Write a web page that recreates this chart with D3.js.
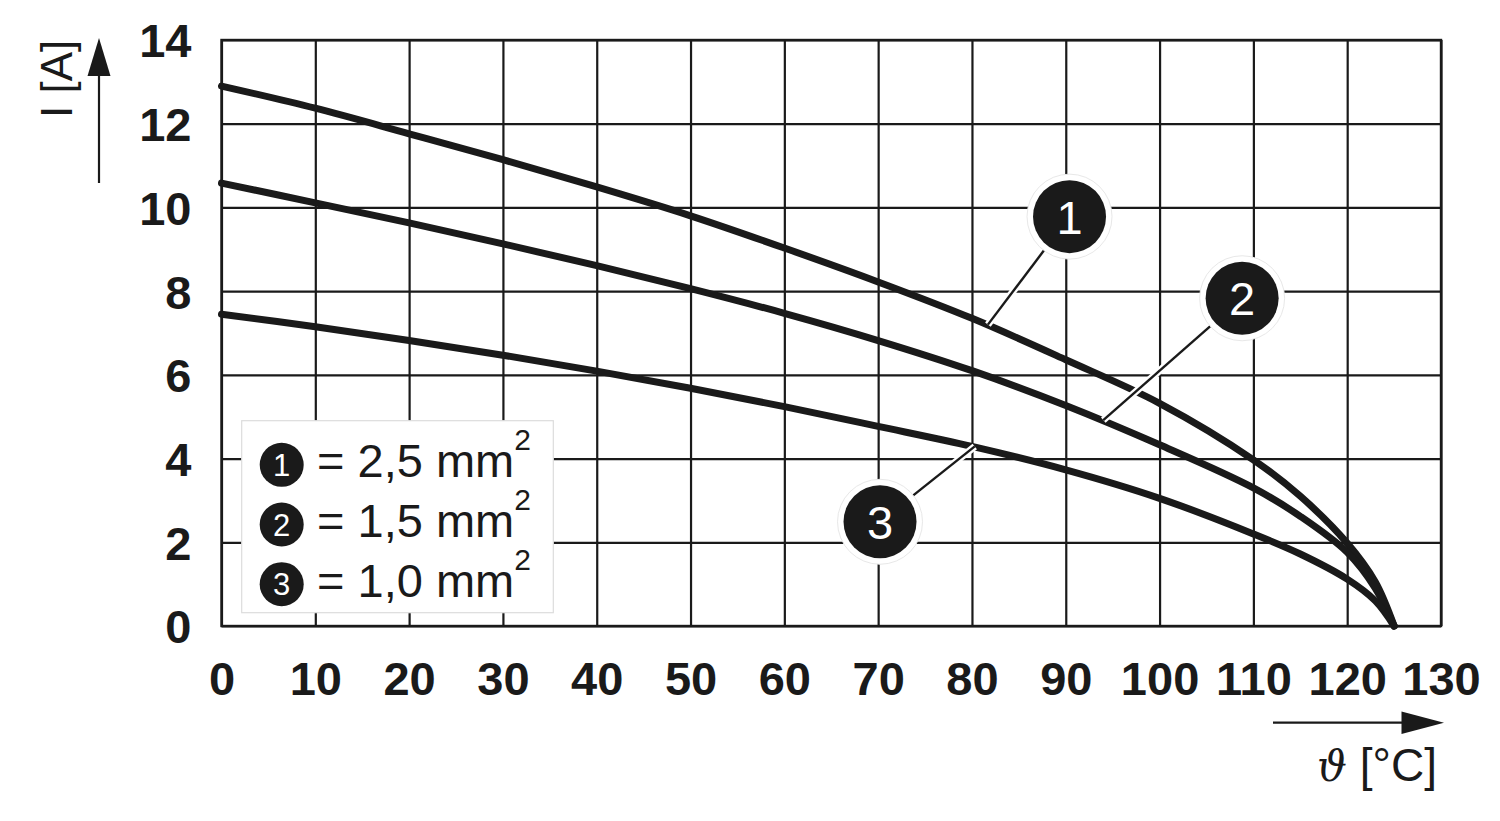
<!DOCTYPE html>
<html>
<head>
<meta charset="utf-8">
<script src="https://cdn.jsdelivr.net/npm/d3@7"></script>
<style>
  html, body { margin: 0; padding: 0; background: #fff; }
  svg { display: block; }
</style>
</head>
<body>
<svg id="chart" width="1500" height="821"></svg>
<script>
// ---- data ----
const temps = [0, 10, 20, 30, 40, 50, 60, 70, 80, 90, 100, 110, 115, 120, 123, 125];
const current25 = [12.9, 12.37, 11.76, 11.14, 10.49, 9.8, 9.03, 8.22, 7.35, 6.36, 5.32, 3.97, 3.1, 1.98, 1.05, 0];
const current15 = [10.58, 10.11, 9.63, 9.13, 8.61, 8.06, 7.47, 6.82, 6.1, 5.27, 4.33, 3.3, 2.62, 1.76, 0.9, 0];
const current10 = [7.45, 7.15, 6.82, 6.47, 6.09, 5.68, 5.24, 4.77, 4.29, 3.73, 3.05, 2.2, 1.72, 1.12, 0.6, 0];
const seriesNames = ["1", "2", "3"];
const legendTexts = ["= 2,5 mm", "= 1,5 mm", "= 1,0 mm"];
const xTicks = [0, 10, 20, 30, 40, 50, 60, 70, 80, 90, 100, 110, 120, 130];
const yTicks = [0, 2, 4, 6, 8, 10, 12, 14];
const calloutPos = [[90.4, 9.78], [108.8, 7.83], [70.2, 2.49]];
const calloutAnchor = [[81.7, 7.2], [94, 4.92], [80.3, 4.29]];
const xTitle = "[°C]";
const yTitle = "I [A]";

const series = [current25, current15, current10];
const ink = "#1a1a1a";
const font = "'Liberation Sans', Arial, Helvetica, sans-serif";

const svg = d3.select("#chart");
svg.append("rect").attr("width", 1500).attr("height", 821).attr("fill", "#fff");

const x = d3.scaleLinear().domain([0, 130]).range([221.5, 1441]);
const y = d3.scaleLinear().domain([0, 14]).range([626, 40]);
const plotW = x(130) - x(0), plotH = y(0) - y(14);

// grid + ticks via axes
const gx = svg.append("g").attr("transform", `translate(0,${y(0)})`)
  .call(d3.axisBottom(x).tickValues(xTicks).tickSize(-plotH).tickPadding(35).tickFormat(d3.format("d")));
const gy = svg.append("g").attr("transform", `translate(${x(0)},0)`)
  .call(d3.axisLeft(y).tickValues(yTicks).tickSize(-plotW).tickPadding(30).tickFormat(d3.format("d")));
[gx, gy].forEach(g => {
  g.select(".domain").remove();
  g.selectAll(".tick line").attr("stroke", ink).attr("stroke-width", 2.2);
  g.selectAll(".tick text").attr("fill", ink).attr("font-family", font)
    .attr("font-weight", "bold").attr("font-size", 47);
});
gy.selectAll(".tick text").attr("dy", "0.36em");
gx.selectAll(".tick text").attr("dy", 0).attr("y", 69);

// border
svg.append("rect").attr("x", x(0)).attr("y", y(14)).attr("width", plotW).attr("height", plotH)
  .attr("fill", "none").attr("stroke", ink).attr("stroke-width", 2.4);

// curves
const line = d3.line().x((d, i) => x(temps[i])).y(d => y(d)).curve(d3.curveCatmullRom.alpha(0.5));
svg.append("g").selectAll("path").data(series).join("path")
  .attr("d", d => line(d)).attr("fill", "none").attr("stroke", ink)
  .attr("stroke-width", 7).attr("stroke-linecap", "round").attr("stroke-linejoin", "round");

// callouts
const cg = svg.append("g");
seriesNames.forEach((name, i) => {
  const cx = x(calloutPos[i][0]), cy = y(calloutPos[i][1]);
  const ax = x(calloutAnchor[i][0]), ay = y(calloutAnchor[i][1]);
  const dx = ax - cx, dy = ay - cy, len = Math.hypot(dx, dy);
  const sx = cx + dx / len * 40, sy = cy + dy / len * 40;
  cg.append("line").attr("x1", sx).attr("y1", sy).attr("x2", ax).attr("y2", ay)
    .attr("stroke", "#fff").attr("stroke-width", 7);
  cg.append("line").attr("x1", sx).attr("y1", sy).attr("x2", ax).attr("y2", ay)
    .attr("stroke", ink).attr("stroke-width", 2.4);
  cg.append("circle").attr("cx", cx).attr("cy", cy).attr("r", 42.5)
    .attr("fill", "#fff").attr("stroke", "#e8e8e8").attr("stroke-width", 1);
  cg.append("circle").attr("cx", cx).attr("cy", cy).attr("r", 36.5).attr("fill", ink);
  cg.append("text").attr("x", cx).attr("y", cy).attr("dy", "0.36em")
    .attr("text-anchor", "middle").attr("fill", "#fff").attr("font-family", font)
    .attr("font-size", 47).text(name);
});

// legend
const lg = svg.append("g");
lg.append("rect").attr("x", 241.7).attr("y", 420.7).attr("width", 311.6).attr("height", 192)
  .attr("fill", "#fff").attr("stroke", "#dcdcdc").attr("stroke-width", 1.2);
seriesNames.forEach((name, i) => {
  const base = 477.3 + i * 59.7;
  lg.append("circle").attr("cx", 281.7).attr("cy", base - 12.5).attr("r", 22).attr("fill", ink);
  lg.append("text").attr("x", 281.7).attr("y", base - 12.5).attr("dy", "0.36em")
    .attr("text-anchor", "middle").attr("fill", "#fff").attr("font-family", font)
    .attr("font-size", 31).text(name);
  const t = lg.append("text").attr("x", 317).attr("y", base).attr("fill", ink)
    .attr("font-family", font).attr("font-size", 47);
  t.append("tspan").text(legendTexts[i]);
  t.append("tspan").attr("font-size", 30).attr("dy", -27).text("2");
});

// axis arrows
svg.append("line").attr("x1", 99).attr("y1", 183).attr("x2", 99).attr("y2", 70)
  .attr("stroke", ink).attr("stroke-width", 2.2);
svg.append("path").attr("d", "M99,38 L87.5,76 L110.5,76 Z").attr("fill", ink);
svg.append("line").attr("x1", 1273).attr("y1", 722.7).attr("x2", 1410).attr("y2", 722.7)
  .attr("stroke", ink).attr("stroke-width", 2.2);
svg.append("path").attr("d", "M1444,722.7 L1401.5,711.5 L1401.5,734 Z").attr("fill", ink);

// axis titles
svg.append("text").attr("transform", "translate(72,118) rotate(-90)")
  .attr("fill", ink).attr("font-family", font).attr("font-size", 44).text(yTitle);
const xt = svg.append("text").attr("x", 1437).attr("y", 781).attr("text-anchor", "end")
  .attr("fill", ink).attr("font-family", font).attr("font-size", 46);
xt.append("tspan").attr("font-family", "'DejaVu Serif', serif").attr("font-style", "italic")
  .attr("font-size", 42).text("ϑ");
xt.append("tspan").text(" " + xTitle);
</script>
</body>
</html>
